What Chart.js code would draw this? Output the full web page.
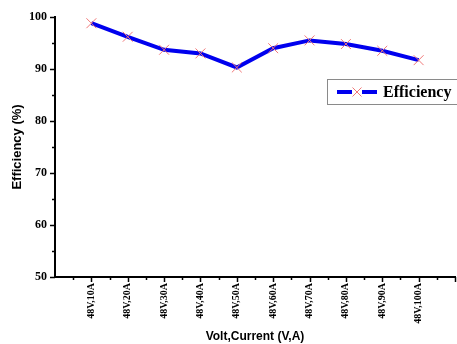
<!DOCTYPE html>
<html>
<head>
<meta charset="utf-8">
<script src="https://cdn.jsdelivr.net/npm/chart.js@4/dist/chart.umd.min.js"></script>
<style>
  html, body { margin: 0; padding: 0; background: #fff; overflow: hidden; width: 457px; height: 344px; }
  #wrap { position: relative; width: 480px; height: 344px; }
  canvas { display: block; }
</style>
</head>
<body>
<div id="wrap"><canvas id="chart" width="480" height="344"></canvas></div>
<script>
// Operating points (voltage, current) along the x axis
const categories = ['48V,10A', '48V,20A', '48V,30A', '48V,40A', '48V,50A',
                    '48V,60A', '48V,70A', '48V,80A', '48V,90A', '48V,100A'];
// Measured efficiency in percent
const efficiency = [98.8, 96.2, 93.7, 93.0, 90.3, 94.0, 95.5, 94.8, 93.5, 91.7];
const seriesName = 'Efficiency';
// Y axis range and steps
const yMin = 50, yMax = 100, yStep = 10, yMinorStep = 5;
const xMax = 11;

const points = efficiency.map((v, i) => ({ x: i + 1, y: v }));

const LINE_BLUE = '#0000ee';
const MARK_RED = '#f07878';

// Outward major and minor tick marks on both axes
const tickMarks = {
  id: 'tickMarks',
  afterDraw(chart) {
    const { ctx, scales: { x, y } } = chart;
    ctx.save();
    ctx.strokeStyle = '#000';
    ctx.lineWidth = 1.5;
    for (let v = yMin; v <= yMax; v += yMinorStep) {
      const py = Math.round(y.getPixelForValue(v)) + 0.5;
      const len = (v % yStep === 0) ? 5 : 3;
      ctx.beginPath();
      ctx.moveTo(x.left - len, py);
      ctx.lineTo(x.left, py);
      ctx.stroke();
    }
    for (let v = 0.5; v <= xMax; v += 0.5) {
      const px = Math.round(x.getPixelForValue(v)) + 0.5;
      const len = Number.isInteger(v) ? 5 : 3;
      ctx.beginPath();
      ctx.moveTo(px, y.bottom);
      ctx.lineTo(px, y.bottom + len);
      ctx.stroke();
    }
    ctx.restore();
  }
};

// Boxed legend inside the plot area
const boxedLegend = {
  id: 'boxedLegend',
  afterDraw(chart) {
    const { ctx } = chart;
    const ds = chart.data.datasets[0];
    const bx = 327.5, by = 79.5, bw = 145, bh = 25;
    const cy = by + bh / 2;
    const mx = 357, r = 4.5;
    ctx.save();
    ctx.strokeStyle = '#8a8a8a';
    ctx.lineWidth = 1;
    ctx.fillStyle = '#fff';
    ctx.fillRect(bx, by, bw, bh);
    ctx.strokeRect(bx, by, bw, bh);
    ctx.strokeStyle = ds.borderColor;
    ctx.lineWidth = 4;
    ctx.beginPath();
    ctx.moveTo(337, cy); ctx.lineTo(mx - 5, cy);
    ctx.moveTo(mx + 5, cy); ctx.lineTo(377, cy);
    ctx.stroke();
    ctx.strokeStyle = ds.pointBorderColor;
    ctx.lineWidth = 1;
    ctx.beginPath();
    ctx.moveTo(mx - r, cy - r); ctx.lineTo(mx + r, cy + r);
    ctx.moveTo(mx + r, cy - r); ctx.lineTo(mx - r, cy + r);
    ctx.stroke();
    ctx.fillStyle = '#000';
    ctx.font = 'bold 16px "Liberation Serif", "Times New Roman", serif';
    ctx.textBaseline = 'middle';
    ctx.textAlign = 'left';
    ctx.fillText(ds.label, 383, cy + 1);
    ctx.restore();
  }
};

new Chart(document.getElementById('chart'), {
  type: 'line',
  data: {
    datasets: [{
      label: seriesName,
      data: points,
      borderColor: LINE_BLUE,
      borderWidth: 4,
      tension: 0,
      fill: false,
      pointStyle: 'crossRot',
      pointRadius: 7,
      pointBorderWidth: 1,
      pointBorderColor: MARK_RED,
      pointBackgroundColor: MARK_RED
    }]
  },
  options: {
    responsive: false,
    devicePixelRatio: 1,
    animation: false,
    layout: { padding: { left: 0, top: 17, right: 25, bottom: 0 } },
    plugins: {
      legend: { display: false },
      tooltip: { enabled: false }
    },
    scales: {
      x: {
        type: 'linear',
        min: 0,
        max: xMax,
        grid: { display: false, drawTicks: false, tickLength: 0 },
        border: { display: true, color: '#000', width: 2 },
        ticks: {
          stepSize: 1,
          autoSkip: false,
          minRotation: 90,
          maxRotation: 90,
          padding: 6,
          color: '#000',
          font: { family: '"Liberation Serif", "Times New Roman", serif', size: 10, weight: 'bold' },
          callback: (v) => (Number.isInteger(v) && v >= 1 && v <= categories.length) ? categories[v - 1] : ''
        },
        title: {
          display: true,
          text: 'Volt,Current (V,A)',
          color: '#000',
          padding: { top: 0, bottom: 0 },
          font: { family: '"Liberation Sans", Arial, sans-serif', size: 12, weight: 'bold' }
        },
        afterFit: (s) => { s.height = 67; }
      },
      y: {
        min: yMin,
        max: yMax,
        grid: { display: false, drawTicks: false, tickLength: 0 },
        border: { display: true, color: '#000', width: 2 },
        ticks: {
          stepSize: yStep,
          padding: 8,
          color: '#000',
          font: { family: '"Liberation Serif", "Times New Roman", serif', size: 12, weight: 'bold' }
        },
        title: {
          display: true,
          text: 'Efficiency (%)',
          color: '#000',
          padding: { top: 10, bottom: 0 },
          font: { family: '"Liberation Sans", Arial, sans-serif', size: 13, weight: 'bold' }
        },
        afterFit: (s) => { s.width = 55; }
      }
    }
  },
  plugins: [tickMarks, boxedLegend]
});
</script>
</body>
</html>
